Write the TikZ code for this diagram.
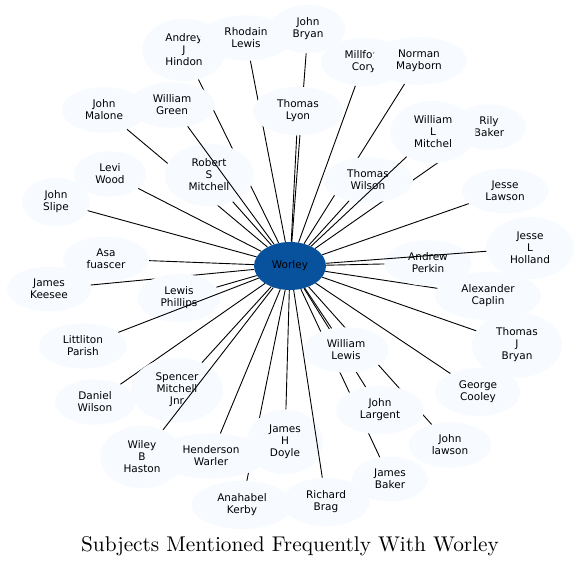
\documentclass[tikz,border=0pt]{standalone}
\usepackage{fontspec}
\usetikzlibrary{shapes.geometric}
\newfontfamily\labelfont{DejaVu Sans}
\newfontfamily\titlefont{lmroman10-regular.otf}
\definecolor{cPale}{HTML}{F7FBFF}
\definecolor{cDeep}{HTML}{08519C}

\begin{document}
\begin{tikzpicture}[
  x=1pt, y=-1pt,
  person/.style={ellipse, fill=cPale, draw=none, align=center,
                 inner xsep=11pt, inner ysep=6pt,
                 font=\labelfont\fontsize{10.5}{12}\selectfont},
  hub/.style={person, fill=cDeep, minimum width=72pt, minimum height=48pt,
              inner sep=1pt},
  link/.style={line width=0.9pt, black},
]
\useasboundingbox (0,0) rectangle (581,567);

\node[hub] (worley) at (290,266) {Worley};

% upper left
\node[person] (hindon) at (184,50) {Andrey\\J\\Hindon};
\draw[link] (worley) -- (hindon);
\node[person] (rhodain) at (246,38) {Rhodain\\Lewis};
\draw[link] (worley) -- (rhodain);
\node[person] (jbryan) at (308,29) {John\\Bryan};
\draw[link] (worley) -- (jbryan);
\node[person] (tlyon) at (298,111) {Thomas\\Lyon};
\draw[link] (worley) -- (tlyon);
\node[person] (jmalone) at (104,110) {John\\Malone};
\draw[link] (worley) -- (jmalone);
\node[person] (rmitchell) at (209,175) {Robert\\S\\Mitchell};
\draw[link] (worley) -- (rmitchell);
\node[person] (wgreen) at (172,105) {William\\Green};
\draw[link] (worley) -- (wgreen);
\node[person] (lwood) at (110,174) {Levi\\Wood};
\draw[link] (worley) -- (lwood);
\node[person] (jslipe) at (56,202) {John\\Slipe};
\draw[link] (worley) -- (jslipe);

% upper right
\node[person] (mcory) at (364,62) {Millford\\Cory};
\draw[link] (worley) -- (mcory);
\node[person] (nmayborn) at (419,61) {Norman\\Mayborn};
\draw[link] (worley) -- (nmayborn);
\node[person] (rbaker) at (489,127) {Rily\\Baker};
\draw[link] (worley) -- (rbaker);
\node[person] (twilson) at (368,180) {Thomas\\Wilson};
\draw[link] (worley) -- (twilson);
\node[person] (wlmitchel) at (433,132) {William\\L\\Mitchel};
\draw[link] (worley) -- (wlmitchel);
\node[person] (jlawson) at (505,191) {Jesse\\Lawson};
\draw[link] (worley) -- (jlawson);

% right
\node[person] (acaplin) at (488,296) {Alexander\\Caplin};
\draw[link] (worley) -- (acaplin);
\node[person] (aperkin) at (428,263) {Andrew\\Perkin};
\draw[link] (worley) -- (aperkin);
\node[person] (jlholland) at (530,248) {Jesse\\L\\Holland};
\draw[link] (worley) -- (jlholland);
\node[person] (tjbryan) at (517,345) {Thomas\\J\\Bryan};
\draw[link] (worley) -- (tjbryan);
\node[person] (gcooley) at (478,392) {George\\Cooley};
\draw[link] (worley) -- (gcooley);

% lower right
\node[person] (jlawson2) at (450,445) {John\\lawson};
\draw[link] (worley) -- (jlawson2);
\node[person] (jbaker) at (390,479) {James\\Baker};
\draw[link] (worley) -- (jbaker);
\node[person] (jlargent) at (380,410) {John\\Largent};
\draw[link] (worley) -- (jlargent);
\node[person] (wlewis) at (346,350) {William\\Lewis};
\draw[link] (worley) -- (wlewis);

% lower left
\node[person] (akerby) at (242,505) {Anahabel\\Kerby};
\draw[link] (worley) -- (akerby);
\node[person] (jdoyle) at (285,442) {James\\H\\Doyle};
\draw[link] (worley) -- (jdoyle);
\node[person] (rbrag) at (326,502) {Richard\\Brag};
\draw[link] (worley) -- (rbrag);
\node[person] (hwarler) at (211,456) {Henderson\\Warler};
\draw[link] (worley) -- (hwarler);
\node[person] (dwilson) at (95,402) {Daniel\\Wilson};
\draw[link] (worley) -- (dwilson);
\node[person] (smitchell) at (177,390) {Spencer\\Mitchell\\Jnr};
\draw[link] (worley) -- (smitchell);
\node[person] (whaston) at (142,457) {Wiley\\B\\Haston};
\draw[link] (worley) -- (whaston);

% left
\node[person] (jkeesee) at (49,289) {James\\Keesee};
\draw[link] (worley) -- (jkeesee);
\node[person] (afuascer) at (106,259) {Asa\\fuascer};
\draw[link] (worley) -- (afuascer);
\node[person] (lphillips) at (179,298) {Lewis\\Phillips};
\draw[link] (worley) -- (lphillips);
\node[person] (lparish) at (83,346) {Littliton\\Parish};
\draw[link] (worley) -- (lparish);

\node[font=\titlefont\fontsize{21.3}{25}\selectfont, anchor=base] (title)
  at (290,551) {Subjects Mentioned Frequently With Worley};

\end{tikzpicture}
\end{document}
